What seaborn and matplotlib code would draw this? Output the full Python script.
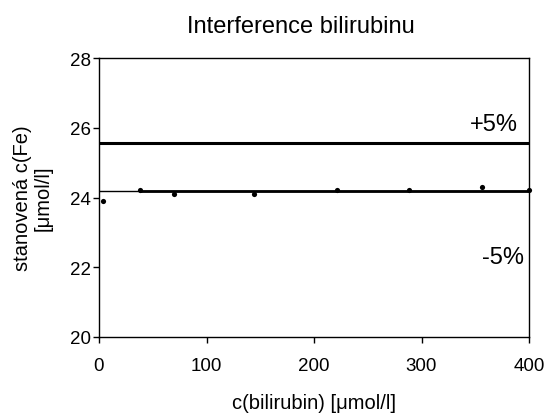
import matplotlib
matplotlib.use("Agg")
import matplotlib.pyplot as plt
import seaborn as sns
import pandas as pd

bilirubin = [4, 38, 70, 144, 221, 288, 356, 400]
fe = [23.90, 24.21, 24.11, 24.11, 24.21, 24.21, 24.31, 24.21]
upper_limit = 25.57
mean_level = 24.20
tick_x = [0, 100, 200, 300, 400]
tick_y = [20, 22, 24, 26, 28]

sns.set_theme(style="white")
plt.rcParams['font.family'] = ['Liberation Sans', 'DejaVu Sans']

df = pd.DataFrame({"x": bilirubin, "y": fe})

fig = plt.figure(figsize=(5.48, 4.14), dpi=100)
ax = fig.add_axes([99/548, 1-338/414, 430/548, 279/414])

ax.axhline(upper_limit, color="black", lw=2.2, zorder=2)
ax.axhline(mean_level, color="black", lw=1.0, zorder=2)
ax.plot([bilirubin[1], bilirubin[-1]], [mean_level, mean_level], color="black", lw=2.0, zorder=2)
sns.scatterplot(data=df, x="x", y="y", ax=ax, color="black", s=14, edgecolor="black", linewidth=0, zorder=3, clip_on=False)

ax.set_xlim(0, 400)
ax.set_ylim(20, 28)
ax.set_xticks(tick_x)
ax.set_yticks(tick_y)
ax.tick_params(axis="both", direction="out", length=4.5, width=1, colors="black", labelsize=13.5, bottom=True, left=True)
ax.tick_params(axis="x", pad=10)
ax.tick_params(axis="y", pad=1.5)
for s in ax.spines.values():
    s.set_color("black")
    s.set_linewidth(1.0)

ax.set_xlabel("c(bilirubin) [μmol/l]", fontsize=14.5, color="black")
ax.xaxis.set_label_coords(0.5, -0.2)
ax.set_ylabel("stanovená c(Fe)\n[μmol/l]", fontsize=14.5, color="black", linespacing=1.15)
ax.yaxis.set_label_coords(-0.107, 0.5)

ax.text(345, 25.94, "+5%", fontsize=17, ha="left", va="baseline", color="black")
ax.text(356, 22.11, "-5%", fontsize=17, ha="left", va="baseline", color="black")

fig.text(301/548, 1-33/414, "Interference bilirubinu", fontsize=17, ha="center", va="baseline", color="black")

fig.savefig("out.png", dpi=100)
